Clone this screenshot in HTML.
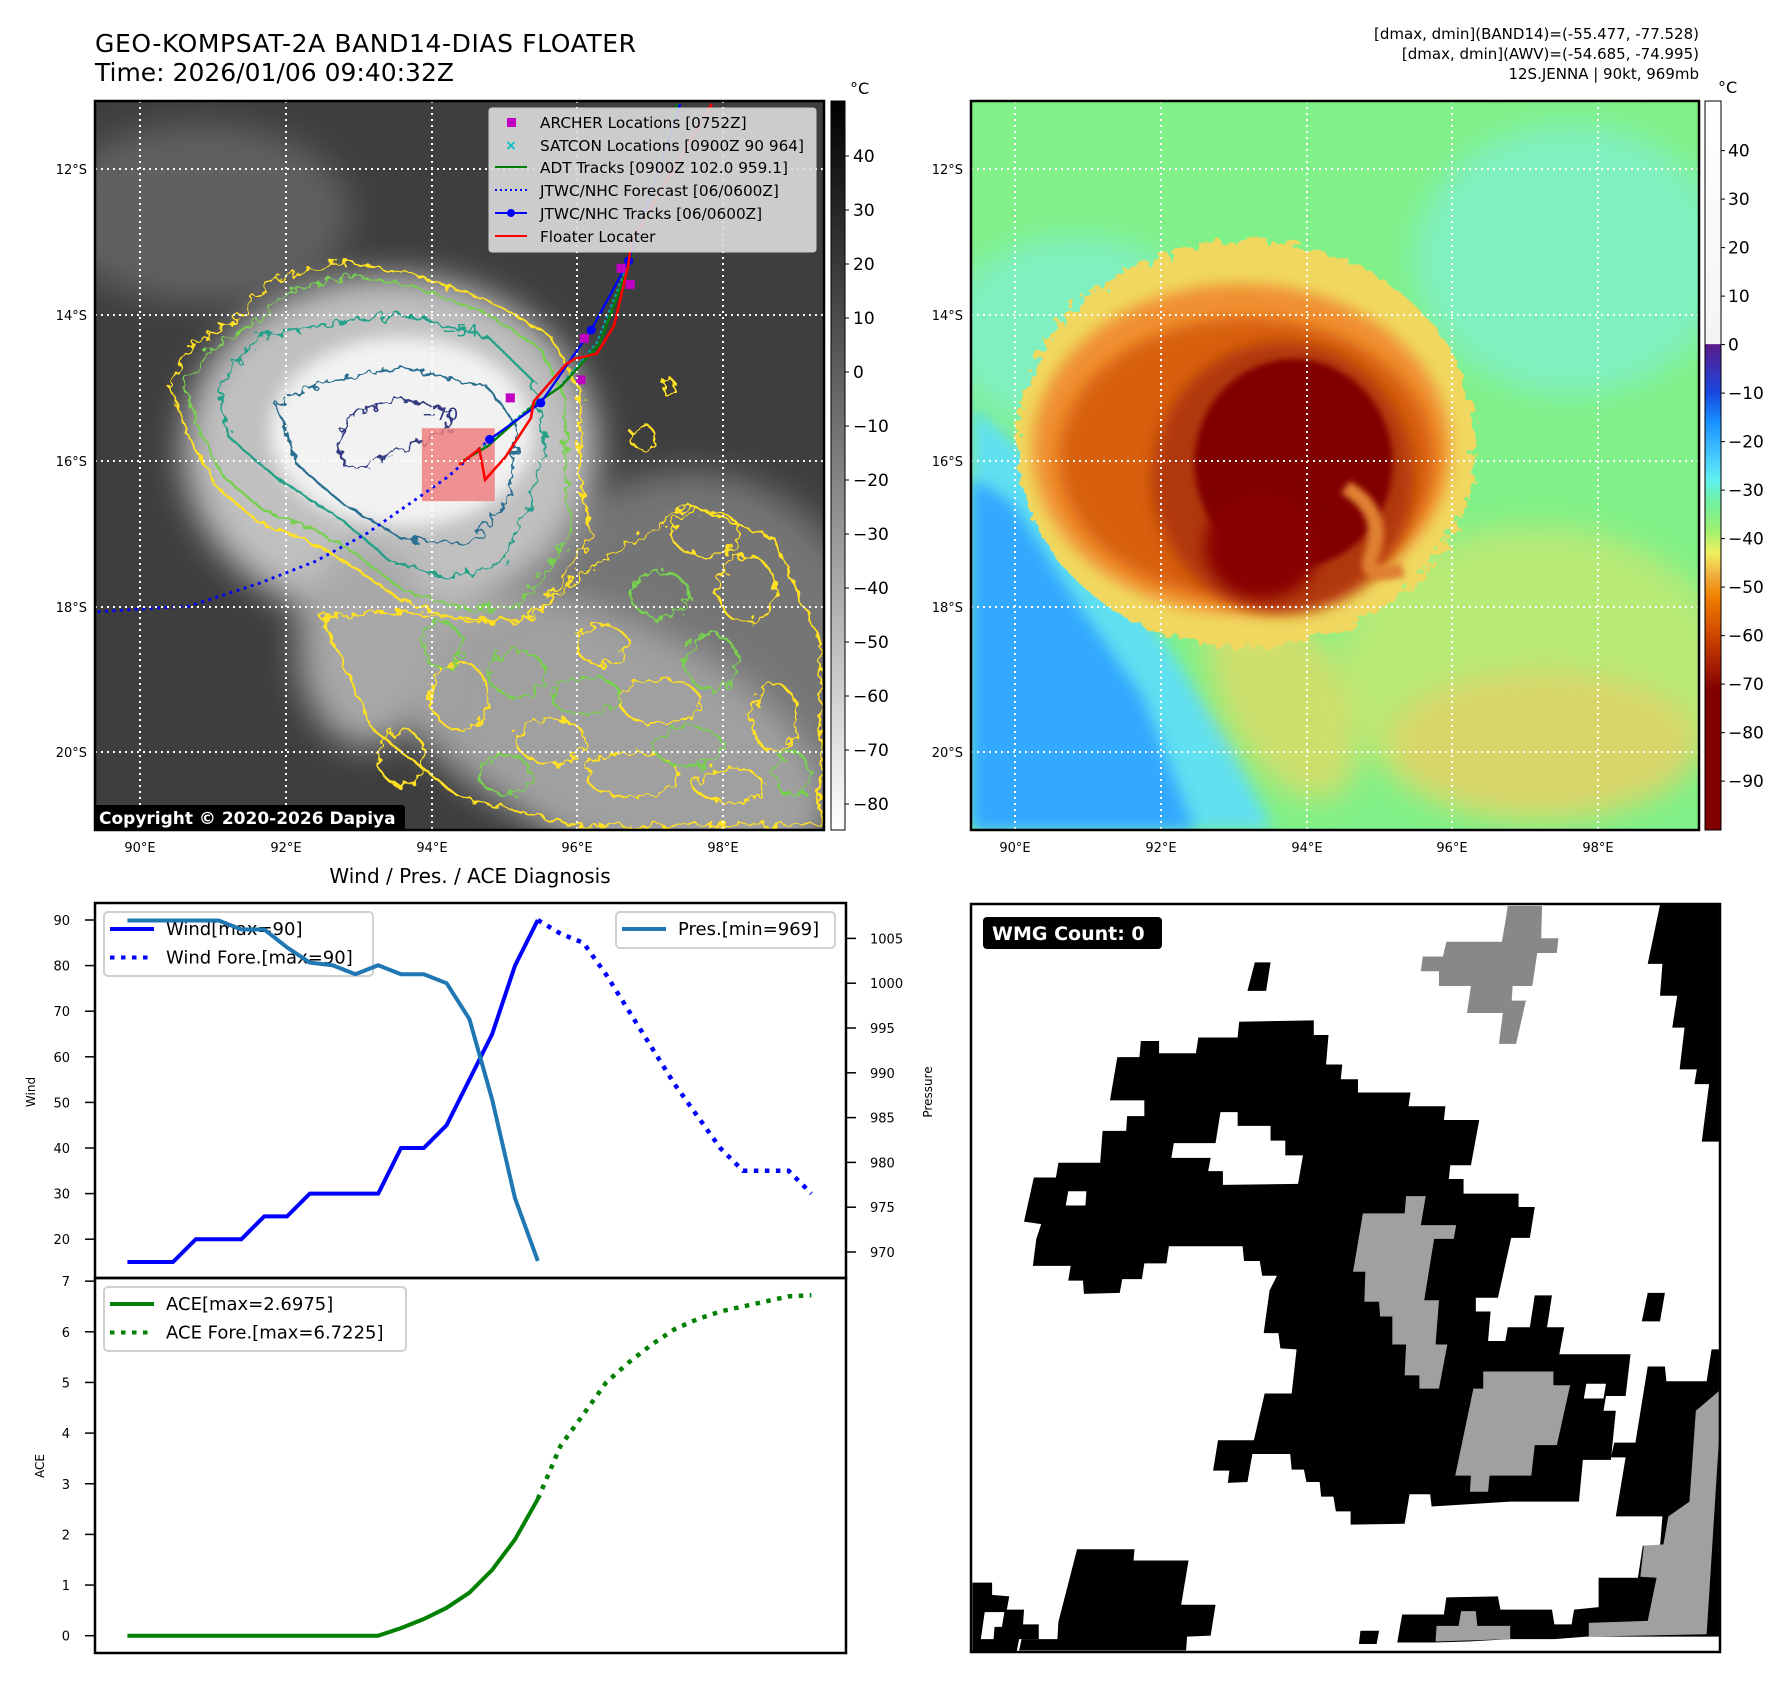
<!DOCTYPE html>
<html><head><meta charset="utf-8">
<style>
html,body{margin:0;padding:0;background:#fff;}
svg{display:block;font-family:"DejaVu Sans","Liberation Sans",sans-serif;}
</style></head>
<body>
<svg id="root" width="1788" height="1690" viewBox="0 0 1788 1690" xmlns="http://www.w3.org/2000/svg">
<defs>
  <filter id="b30" x="-50%" y="-50%" width="200%" height="200%"><feGaussianBlur stdDeviation="30"/></filter>
  <filter id="b15" x="-50%" y="-50%" width="200%" height="200%"><feGaussianBlur stdDeviation="15"/></filter>
  <filter id="b6" x="-50%" y="-50%" width="200%" height="200%"><feGaussianBlur stdDeviation="6"/></filter>
  <filter id="wig" x="-10%" y="-10%" width="120%" height="120%">
    <feTurbulence type="fractalNoise" baseFrequency="0.06" numOctaves="2" seed="3"/>
    <feDisplacementMap in="SourceGraphic" scale="28"/>
  </filter>
  <filter id="rough" x="-10%" y="-10%" width="120%" height="120%">
    <feTurbulence type="fractalNoise" baseFrequency="0.05" numOctaves="3" seed="7"/>
    <feDisplacementMap in="SourceGraphic" scale="45"/>
  </filter>
  <clipPath id="clipL"><rect x="95" y="101" width="729" height="729"/></clipPath>
  <clipPath id="clipR"><rect x="971" y="101" width="728" height="729"/></clipPath>
  <linearGradient id="gradL" x1="0" y1="0" x2="0" y2="1">
    <stop offset="0" stop-color="#000"/><stop offset="1" stop-color="#fff"/>
  </linearGradient>
  <linearGradient id="gradR" x1="0" y1="0" x2="0" y2="1">
    <stop offset="0" stop-color="#ffffff"/>
    <stop offset="0.333" stop-color="#f4f4f4"/>
    <stop offset="0.334" stop-color="#5a1a8a"/>
    <stop offset="0.40" stop-color="#1848e0"/>
    <stop offset="0.44" stop-color="#1890ff"/>
    <stop offset="0.48" stop-color="#40c0ff"/>
    <stop offset="0.52" stop-color="#60f0f0"/>
    <stop offset="0.55" stop-color="#70f0a0"/>
    <stop offset="0.59" stop-color="#a0f070"/>
    <stop offset="0.62" stop-color="#f0f060"/>
    <stop offset="0.65" stop-color="#f0b040"/>
    <stop offset="0.68" stop-color="#f08000"/>
    <stop offset="0.73" stop-color="#d04800"/>
    <stop offset="0.78" stop-color="#a01800"/>
    <stop offset="0.81" stop-color="#800000"/>
    <stop offset="1" stop-color="#800000"/>
  </linearGradient>
</defs>

<text x="95" y="52" font-size="25" fill="#000" textLength="541">GEO-KOMPSAT-2A BAND14-DIAS FLOATER</text>
<text x="95" y="81" font-size="25" fill="#000">Time: 2026/01/06 09:40:32Z</text>
<g font-size="15" text-anchor="end" fill="#000">
  <text x="1699" y="39">[dmax, dmin](BAND14)=(-55.477, -77.528)</text>
  <text x="1699" y="59">[dmax, dmin](AWV)=(-54.685, -74.995)</text>
  <text x="1699" y="79">12S.JENNA | 90kt, 969mb</text>
</g>

<!-- LEFT MAP -->
<g clip-path="url(#clipL)">
  <rect x="95" y="101" width="729" height="729" fill="#3e3e3e"/>
  <g transform="scale(0.574,0.5612)">
    <ellipse cx="350" cy="380" rx="260" ry="160" fill="#606060" filter="url(#b30)"/>
    <ellipse cx="1200" cy="1200" rx="330" ry="360" fill="#747474" filter="url(#b30)"/>
    <ellipse cx="1050" cy="1300" rx="420" ry="200" fill="#a0a0a0" filter="url(#b30)" transform="rotate(25 1050 1300)"/>
    <ellipse cx="680" cy="800" rx="360" ry="310" fill="#c0c0c0" filter="url(#b30)"/>
    <ellipse cx="700" cy="770" rx="230" ry="170" fill="#f2f2f2" filter="url(#b15)"/>
    <ellipse cx="640" cy="1150" rx="120" ry="180" fill="#a8a8a8" filter="url(#b30)"/>
    <g fill="none" stroke-width="4" filter="url(#wig)">
      <path d="M295,690 L330,620 L420,560 L470,500 L600,465 L720,490 L860,540 L960,600 L1010,700 L1010,850 L1030,950 L990,1020 L930,1100 L820,1110 L700,1070 L600,1000 L530,960 L450,930 L380,870 L330,780 Z" stroke="#ffe020"/>
      <path d="M320,690 L360,630 L440,580 L500,520 L610,490 L720,510 L850,560 L940,620 L985,710 L985,850 L995,950 L960,1010 L900,1080 L810,1085 L700,1050 L610,980 L540,940 L460,910 L390,850 L350,770 Z" stroke="#78d050"/>
      <path d="M380,690 L450,600 L560,580 L700,560 L850,600 L930,680 L950,800 L920,900 L880,1000 L780,1030 L680,1000 L600,930 L480,850 L400,780 Z" stroke="#20a088"/>
      <path d="M480,720 L560,680 L700,655 L850,690 L900,760 L890,880 L820,970 L700,960 L600,900 L520,830 Z" stroke="#2a6e90"/>
      <path d="M590,790 L610,740 L700,710 L790,735 L780,770 L700,800 L640,830 L600,830 Z" stroke="#303a80"/>
      <path d="M560,1100 L700,1090 L900,1110 L1050,1000 L1200,900 L1350,960 L1430,1150 L1430,1470 L1000,1470 L800,1420 L650,1300 Z" stroke="#ffe020"/>
      <g stroke="#ffe020">
        <ellipse cx="1120" cy="780" rx="22" ry="22"/><ellipse cx="1165" cy="690" rx="12" ry="15"/>
        <ellipse cx="1230" cy="950" rx="60" ry="40"/><ellipse cx="1300" cy="1050" rx="50" ry="60"/>
        <ellipse cx="1050" cy="1150" rx="45" ry="35"/><ellipse cx="1150" cy="1250" rx="70" ry="40"/>
        <ellipse cx="1350" cy="1280" rx="40" ry="60"/><ellipse cx="960" cy="1320" rx="60" ry="40"/>
        <ellipse cx="800" cy="1240" rx="50" ry="60"/><ellipse cx="1100" cy="1380" rx="80" ry="40"/>
        <ellipse cx="1270" cy="1400" rx="60" ry="30"/><ellipse cx="700" cy="1350" rx="40" ry="50"/>
      </g>
      <g stroke="#78d050">
        <ellipse cx="1150" cy="1060" rx="50" ry="40"/><ellipse cx="1020" cy="1240" rx="60" ry="35"/>
        <ellipse cx="1240" cy="1180" rx="45" ry="50"/><ellipse cx="900" cy="1200" rx="50" ry="40"/>
        <ellipse cx="1200" cy="1330" rx="60" ry="35"/><ellipse cx="880" cy="1380" rx="45" ry="35"/>
        <ellipse cx="1380" cy="1380" rx="30" ry="40"/><ellipse cx="770" cy="1150" rx="35" ry="40"/>
      </g>
    </g>
    <text x="735" y="748" font-size="30" fill="#303a80">−70</text>
    <text x="770" y="600" font-size="30" fill="#20a088">−54</text>
    <rect x="735" y="763" width="127" height="130" fill="#f08080" fill-opacity="0.85"/>
    <polyline points="170,1090 330,1080 450,1040 550,1000 640,950 710,900 780,850 853,783" fill="none" stroke="#0000ff" stroke-width="5" stroke-dasharray="5,8"/>
    <polyline points="810,820 850,790 930,720 975,690 1040,610 1090,480 1180,185" fill="none" stroke="#00a0a0" stroke-width="4" stroke-dasharray="6,4"/>
    <polyline points="805,822 850,795 930,722 978,688 1045,612 1092,482 1180,185" fill="none" stroke="#008000" stroke-width="4"/>
    <polyline points="853,783 942,718 1030,588 1095,465 1185,185" fill="none" stroke="#0000ff" stroke-width="4"/>
    <g fill="#0000ff"><circle cx="853" cy="783" r="8"/><circle cx="942" cy="718" r="8"/><circle cx="1030" cy="588" r="8"/><circle cx="1095" cy="465" r="8"/></g>
    <polyline points="800,828 835,800 845,855 880,815 925,745 930,715 985,650 1000,640 1040,630 1070,580 1095,470 1100,430 1240,185" fill="none" stroke="#ff0000" stroke-width="4.5"/>
    <g fill="#c000c0">
      <rect x="881" y="701" width="16" height="16"/><rect x="1004" y="669" width="16" height="16"/><rect x="1010" y="595" width="16" height="16"/><rect x="1074" y="470" width="16" height="16"/><rect x="1090" y="499" width="16" height="16"/>
    </g>
  </g>
  <g stroke="#fff" stroke-width="2" stroke-dasharray="2,4">
    <line x1="95" x2="824" y1="169" y2="169"/><line x1="95" x2="824" y1="315" y2="315"/><line x1="95" x2="824" y1="461" y2="461"/><line x1="95" x2="824" y1="607" y2="607"/><line x1="95" x2="824" y1="752" y2="752"/>
    <line y1="101" y2="830" x1="140" x2="140"/><line y1="101" y2="830" x1="286" x2="286"/><line y1="101" y2="830" x1="432" x2="432"/><line y1="101" y2="830" x1="577" x2="577"/><line y1="101" y2="830" x1="723" x2="723"/>
  </g>
  <g>
    <rect x="489" y="108" width="327" height="144" rx="3" fill="#dcdcdc" fill-opacity="0.9" stroke="#ccc"/>
    <rect x="507" y="118" width="9" height="9" fill="#c000c0"/>
    <text x="511" y="150" font-size="14" fill="#00c0c0" font-weight="bold" text-anchor="middle">×</text>
    <line x1="495" x2="527" y1="167" y2="167" stroke="#008000" stroke-width="2"/>
    <line x1="495" x2="527" y1="190" y2="190" stroke="#0000ff" stroke-width="2" stroke-dasharray="2,3"/>
    <line x1="495" x2="527" y1="213" y2="213" stroke="#0000ff" stroke-width="2"/><circle cx="511" cy="213" r="4" fill="#0000ff"/>
    <line x1="495" x2="527" y1="236" y2="236" stroke="#ff0000" stroke-width="2"/>
    <g font-size="15.3" fill="#000">
      <text x="540" y="128">ARCHER Locations [0752Z]</text>
      <text x="540" y="151">SATCON Locations [0900Z 90 964]</text>
      <text x="540" y="173">ADT Tracks [0900Z 102.0 959.1]</text>
      <text x="540" y="196">JTWC/NHC Forecast [06/0600Z]</text>
      <text x="540" y="219">JTWC/NHC Tracks [06/0600Z]</text>
      <text x="540" y="242">Floater Locater</text>
    </g>
  </g>
  <rect x="94" y="805" width="311" height="26" rx="3" fill="#000"/>
  <text x="99" y="824" font-size="17" font-weight="bold" fill="#fff">Copyright © 2020-2026 Dapiya</text>
</g>
<rect x="95" y="101" width="729" height="729" fill="none" stroke="#000" stroke-width="2.5"/>
<g font-size="13" fill="#000">
  <g text-anchor="end"><text x="87" y="174">12°S</text><text x="87" y="320">14°S</text><text x="87" y="466">16°S</text><text x="87" y="612">18°S</text><text x="87" y="757">20°S</text></g>
  <g text-anchor="middle"><text x="140" y="852">90°E</text><text x="286" y="852">92°E</text><text x="432" y="852">94°E</text><text x="577" y="852">96°E</text><text x="723" y="852">98°E</text></g>
</g>
<rect x="831" y="101" width="14" height="729" fill="url(#gradL)" stroke="#000" stroke-width="1"/>
<text x="850" y="94" font-size="16">°C</text>
<g id="cbL" font-size="17"></g>

<!-- RIGHT MAP -->
<g clip-path="url(#clipR)">
  <rect x="971" y="101" width="728" height="729" fill="#80f088"/>
  <g transform="translate(970,90) scale(0.5217,0.4847)">
    <ellipse cx="1150" cy="350" rx="300" ry="280" fill="#80f0c0" filter="url(#b30)"/>
    <ellipse cx="200" cy="500" rx="250" ry="200" fill="#80f0c0" filter="url(#b30)"/>
    <path d="M3,650 L120,760 L250,950 L380,1150 L500,1350 L580,1525 L3,1525 Z" fill="#60e0f0" filter="url(#b15)"/>
    <path d="M3,800 L80,850 L200,1050 L330,1250 L430,1525 L3,1525 Z" fill="#30a8ff" filter="url(#b15)"/>
    <ellipse cx="1080" cy="1200" rx="380" ry="300" fill="#d0e870" opacity="0.7" filter="url(#b30)"/>
    <ellipse cx="1100" cy="1350" rx="300" ry="150" fill="#f0c860" opacity="0.6" filter="url(#b30)"/>
    <ellipse cx="600" cy="1250" rx="120" ry="230" fill="#f0d860" opacity="0.7" filter="url(#b30)" transform="rotate(-25 600 1250)"/>
    <g filter="url(#rough)">
      <ellipse cx="530" cy="730" rx="440" ry="420" fill="#f0d860"/>
    </g>
    <ellipse cx="520" cy="740" rx="400" ry="340" fill="#f09030" filter="url(#b15)"/>
    <ellipse cx="530" cy="760" rx="360" ry="290" fill="#d86010" filter="url(#b15)"/>
    <ellipse cx="600" cy="800" rx="250" ry="280" fill="#b03808" filter="url(#b15)"/>
    <ellipse cx="620" cy="770" rx="190" ry="215" fill="#800000" filter="url(#b6)"/>
    <ellipse cx="560" cy="940" rx="110" ry="110" fill="#880400" filter="url(#b15)"/>
    <path d="M720,820 Q800,870 770,960 Q750,1010 830,990" fill="none" stroke="#e08030" stroke-width="30" filter="url(#b6)"/>
  </g>
  <g stroke="#fff" stroke-width="2" stroke-dasharray="2,4">
    <line x1="971" x2="1699" y1="169" y2="169"/><line x1="971" x2="1699" y1="315" y2="315"/><line x1="971" x2="1699" y1="461" y2="461"/><line x1="971" x2="1699" y1="607" y2="607"/><line x1="971" x2="1699" y1="752" y2="752"/>
    <line y1="101" y2="830" x1="1015" x2="1015"/><line y1="101" y2="830" x1="1161" x2="1161"/><line y1="101" y2="830" x1="1307" x2="1307"/><line y1="101" y2="830" x1="1452" x2="1452"/><line y1="101" y2="830" x1="1598" x2="1598"/>
  </g>
</g>
<rect x="971" y="101" width="728" height="729" fill="none" stroke="#000" stroke-width="2.5"/>
<g font-size="13" fill="#000">
  <g text-anchor="end"><text x="963" y="174">12°S</text><text x="963" y="320">14°S</text><text x="963" y="466">16°S</text><text x="963" y="612">18°S</text><text x="963" y="757">20°S</text></g>
  <g text-anchor="middle"><text x="1015" y="852">90°E</text><text x="1161" y="852">92°E</text><text x="1307" y="852">94°E</text><text x="1452" y="852">96°E</text><text x="1598" y="852">98°E</text></g>
</g>
<rect x="1705" y="101" width="16" height="729" fill="url(#gradR)" stroke="#000" stroke-width="1"/>
<text x="1718" y="93" font-size="16">°C</text>
<g id="cbR" font-size="17"></g>

<text x="470" y="883" font-size="20" text-anchor="middle">Wind / Pres. / ACE Diagnosis</text>
<g id="chart"></g>

<!-- WMG -->
<g>
  <rect x="971" y="904" width="749" height="748" fill="#fff"/>
  <g transform="translate(970,900) scale(0.4911)">
    <polygon fill="#888" points="1095,12 1165,12 1163,78 1198,78 1195,108 1155,108 1145,175 1105,175 1103,205 1132,205 1112,293 1077,293 1085,230 1012,230 1020,175 955,175 955,145 918,145 922,115 963,115 970,85 1083,85 1090,45"/>
    <polygon fill="#000" points="580,127 612,127 603,185 565,185"/>
    <polygon fill="#000" points="1405,10 1525,10 1525,492 1490,492 1505,375 1475,375 1480,345 1445,345 1455,260 1430,260 1440,195 1405,195 1410,130 1380,130"/>
    <polygon fill="#000" points="548,248 700,245 700,275 730,275 725,335 758,335 755,365 790,365 790,392 897,392 893,420 968,420 965,448 1037,448 1020,540 978,540 975,568 1005,568 1005,598 1117,598 1117,625 1150,625 1140,688 1102,688 1075,810 1030,810 1030,838 1060,838 1055,898 1090,898 1095,870 1140,870 1150,805 1185,805 1175,870 1210,870 1200,925 1345,925 1335,1010 1295,1010 1290,1040 1315,1040 1305,1140 1248,1140 1240,1225 1100,1225 940,1235 937,1210 895,1210 885,1270 775,1272 775,1245 745,1245 740,1215 715,1215 712,1185 685,1185 680,1160 655,1160 652,1128 575,1128 565,1185 525,1187 528,1162 495,1162 505,1100 578,1100 600,1005 655,1005 665,915 632,913 628,882 598,882 610,795 625,765 595,765 590,735 558,735 555,705 405,705 400,740 355,740 350,772 310,772 305,800 232,802 230,775 200,775 205,745 128,745 135,690 145,660 110,655 130,565 175,565 180,535 265,535 270,470 318,470 320,440 355,440 355,408 285,408 300,320 345,320 348,287 385,287 385,312 460,312 465,280 545,280"/>
    <polygon fill="#fff" points="510,432 545,432 545,460 612,460 612,490 642,490 642,520 678,520 668,578 515,580 515,552 485,552 490,525 410,525 415,495 500,495"/>
    <polygon fill="#fff" points="200,593 237,593 235,622 195,622"/>
    <polygon fill="#a0a0a0" points="888,603 928,603 918,662 990,662 985,690 945,690 925,815 955,815 948,905 972,905 955,995 915,995 915,968 885,968 888,905 860,905 860,848 835,848 833,818 803,818 805,757 780,757 800,638 885,638"/>
    <polygon fill="#a0a0a0" points="1045,960 1188,960 1188,988 1222,988 1195,1110 1150,1110 1143,1172 1058,1172 1055,1205 1018,1205 1020,1172 988,1172 1025,995 1045,995"/>
    <polygon fill="#000" points="1380,800 1415,800 1405,858 1368,858"/>
    <polygon fill="#000" points="1510,915 1525,915 1525,1500 1255,1500 1190,1505 1100,1505 1015,1510 945,1512 870,1512 880,1455 965,1455 970,1420 1075,1418 1080,1445 1185,1445 1190,1475 1225,1475 1230,1445 1280,1440 1280,1380 1360,1380 1370,1315 1405,1315 1410,1255 1315,1255 1335,1135 1305,1135 1312,1105 1355,1105 1380,950 1415,950 1418,980 1500,980"/>
    <polygon fill="#fff" points="1255,985 1295,985 1290,1015 1250,1015"/>
    <polygon fill="#a0a0a0" points="1478,1040 1525,1000 1525,1100 1500,1495 1260,1500 1260,1472 1380,1468 1398,1380 1365,1378 1372,1315 1412,1312 1422,1255 1465,1225"/>
    <polygon fill="#a0a0a0" points="1000,1448 1030,1448 1033,1478 1100,1478 1100,1505 948,1510 950,1478 995,1478"/>
    <polygon fill="#000" points="218,1322 335,1322 333,1345 445,1345 430,1435 500,1435 490,1498 442,1500 440,1528 100,1528 105,1505 178,1505 180,1470"/>
    <polygon fill="#000" points="5,1390 45,1390 45,1415 80,1418 75,1445 110,1445 108,1475 140,1475 140,1505 100,1505 95,1530 5,1530"/>
    <polygon fill="#fff" points="30,1450 70,1450 65,1480 50,1480 48,1505 22,1505"/>
    <polygon fill="#000" points="795,1488 833,1488 828,1515 792,1515"/>
  </g>
  <rect x="971" y="904" width="749" height="748" fill="none" stroke="#000" stroke-width="2.5"/>
  <rect x="983" y="917" width="179" height="32" rx="4" fill="#000"/>
  <text x="992" y="940" font-size="19" font-weight="bold" fill="#fff">WMG Count: 0</text>
</g>

<script>
const windObs = [15,15,15,20,20,20,25,25,30,30,30,30,40,40,45,55,65,80,90];
const windFore = [90,87,85,78,70,62,54,47,40,35,35,35,30];
const presObs = [1007,1007,1007,1007,1007,1006,1006,1004,1002.3,1002,1001,1002,1001,1001,1000,996,987,976,969];
const aceObs = [0,0,0,0,0,0,0,0,0,0,0,0,0.15,0.33,0.55,0.85,1.3,1.9,2.6975];
const aceFore = [2.6975,3.75,4.37,5.0,5.4,5.75,6.05,6.25,6.4,6.5,6.6,6.7,6.7225];
const windTicks = [20,30,40,50,60,70,80,90];
const presTicks = [970,975,980,985,990,995,1000,1005];
const aceTicks = [0,1,2,3,4,5,6,7];
const cbLTicks = [40,30,20,10,0,-10,-20,-30,-40,-50,-60,-70,-80];
const cbRTicks = [40,30,20,10,0,-10,-20,-30,-40,-50,-60,-70,-80,-90];

const NS = 'http://www.w3.org/2000/svg';
function mk(parent, tag, attrs) {
  const e = document.createElementNS(NS, tag);
  for (const k in attrs) e.setAttribute(k, attrs[k]);
  parent.appendChild(e);
  return e;
}
const xS = i => 127.4 + i * 22.8;
const windY = v => 920 + (90 - v) * 4.56;
const presY = p => 938.4 + (1005 - p) * 8.96;
const aceY = a => 1635.7 - a * 50.65;
const cbLY = v => 156 + (40 - v) * 5.4;
const cbRY = v => 150.6 + (40 - v) * 4.85;

const cbL = document.getElementById('cbL');
cbLTicks.forEach(v => {
  const y = cbLY(v);
  const t = mk(cbL, 'line', {x1: 845, x2: 849, y1: y, y2: y, stroke: '#000', 'stroke-width': 1});
  
  
  const l = mk(cbL, 'text', {x: 853, y: y + 6});
  
  
  l.textContent = v < 0 ? '\u2212' + (-v) : String(v);
});
const cbR = document.getElementById('cbR');
cbRTicks.forEach(v => {
  const y = cbRY(v);
  const t = mk(cbR, 'line', {x1: 1721, x2: 1725, y1: y, y2: y, stroke: '#000', 'stroke-width': 1});
  
  
  const l = mk(cbR, 'text', {x: 1728, y: y + 6});
  
  
  l.textContent = v < 0 ? '\u2212' + (-v) : String(v);
});

const ch = document.getElementById('chart');
const pts = (arr, start, yf) => arr.map((v, i) => xS(start + i) + ',' + yf(v)).join(' ');
mk(ch, 'rect', {x: 95, y: 903, width: 751, height: 750, fill: '#fff'});

function legend(x, y, w, h, entries, name) {
  const g = mk(ch, 'g', {});
  
  
  mk(g, 'rect', {x: x, y: y, width: w, height: h, rx: 4, fill: '#fff', 'fill-opacity': 0.8, stroke: '#d0d0d0', 'stroke-width': 2});
  entries.forEach((e, i) => {
    const yy = y + 17 + i * 28.5;
    const a = {x1: x + 6, x2: x + 50, y1: yy, y2: yy, stroke: e.c, 'stroke-width': 4};
    if (e.d) a['stroke-dasharray'] = '4.5,6.5';
    mk(g, 'line', a);
    const t = mk(g, 'text', {x: x + 62, y: yy + 6, 'font-size': 18});
    t.textContent = e.t;
  });
}

const windLine = mk(ch, 'polyline', {points: pts(windObs, 0, windY), fill: 'none', stroke: '#0000ff', 'stroke-width': 4});


const windF = mk(ch, 'polyline', {points: pts(windFore, windObs.length - 1, windY), fill: 'none', stroke: '#0000ff', 'stroke-width': 4.5, 'stroke-dasharray': '4.5,6.5'});


legend(104, 912, 269, 64, [{c: '#0000ff', t: 'Wind[max=90]'}, {c: '#0000ff', t: 'Wind Fore.[max=90]', d: 1}], 'wind-legend');

const presLine = mk(ch, 'polyline', {points: pts(presObs, 0, presY), fill: 'none', stroke: '#1f77b4', 'stroke-width': 4, 'stroke-linejoin': 'round'});


legend(616, 912, 219, 36, [{c: '#1f77b4', t: 'Pres.[min=969]'}], 'pressure-legend');

const aceLine = mk(ch, 'polyline', {points: pts(aceObs, 0, aceY), fill: 'none', stroke: '#008000', 'stroke-width': 4});


const aceF = mk(ch, 'polyline', {points: pts(aceFore, aceObs.length - 1, aceY), fill: 'none', stroke: '#008000', 'stroke-width': 4.5, 'stroke-dasharray': '4.5,6.5'});


legend(104, 1287, 302, 64, [{c: '#008000', t: 'ACE[max=2.6975]'}, {c: '#008000', t: 'ACE Fore.[max=6.7225]', d: 1}], 'ace-legend');

const f1 = mk(ch, 'rect', {x: 95, y: 903, width: 751, height: 375, fill: 'none', stroke: '#000', 'stroke-width': 2.5});


const f2 = mk(ch, 'rect', {x: 95, y: 1278, width: 751, height: 375, fill: 'none', stroke: '#000', 'stroke-width': 2.5});



windTicks.forEach(v => {
  const y = windY(v);
  const t = mk(ch, 'line', {x1: 85, x2: 95, y1: y, y2: y, stroke: '#000', 'stroke-width': 1.5});
  
  
  const l = mk(ch, 'text', {x: 70, y: y + 5, 'font-size': 13, 'text-anchor': 'end'});
  
  
  l.textContent = v;
});
presTicks.forEach(v => {
  const y = presY(v);
  const t = mk(ch, 'line', {x1: 846, x2: 856, y1: y, y2: y, stroke: '#000', 'stroke-width': 1.5});
  
  
  const l = mk(ch, 'text', {x: 870, y: y + 5, 'font-size': 13});
  
  
  l.textContent = v;
});
aceTicks.forEach(v => {
  const y = aceY(v);
  const t = mk(ch, 'line', {x1: 85, x2: 95, y1: y, y2: y, stroke: '#000', 'stroke-width': 1.5});
  
  
  const l = mk(ch, 'text', {x: 70, y: y + 5, 'font-size': 13, 'text-anchor': 'end'});
  
  
  l.textContent = v;
});
const wt = mk(ch, 'text', {x: 0, y: 0, 'font-size': 12, 'text-anchor': 'middle', transform: 'translate(35,1092) rotate(-90)'});


wt.textContent = 'Wind';
const pt = mk(ch, 'text', {x: 0, y: 0, 'font-size': 12, 'text-anchor': 'middle', transform: 'translate(932,1092) rotate(-90)'});


pt.textContent = 'Pressure';
const at = mk(ch, 'text', {x: 0, y: 0, 'font-size': 12, 'text-anchor': 'middle', transform: 'translate(44,1466) rotate(-90)'});


at.textContent = 'ACE';
</script>
</svg>
</body></html>
